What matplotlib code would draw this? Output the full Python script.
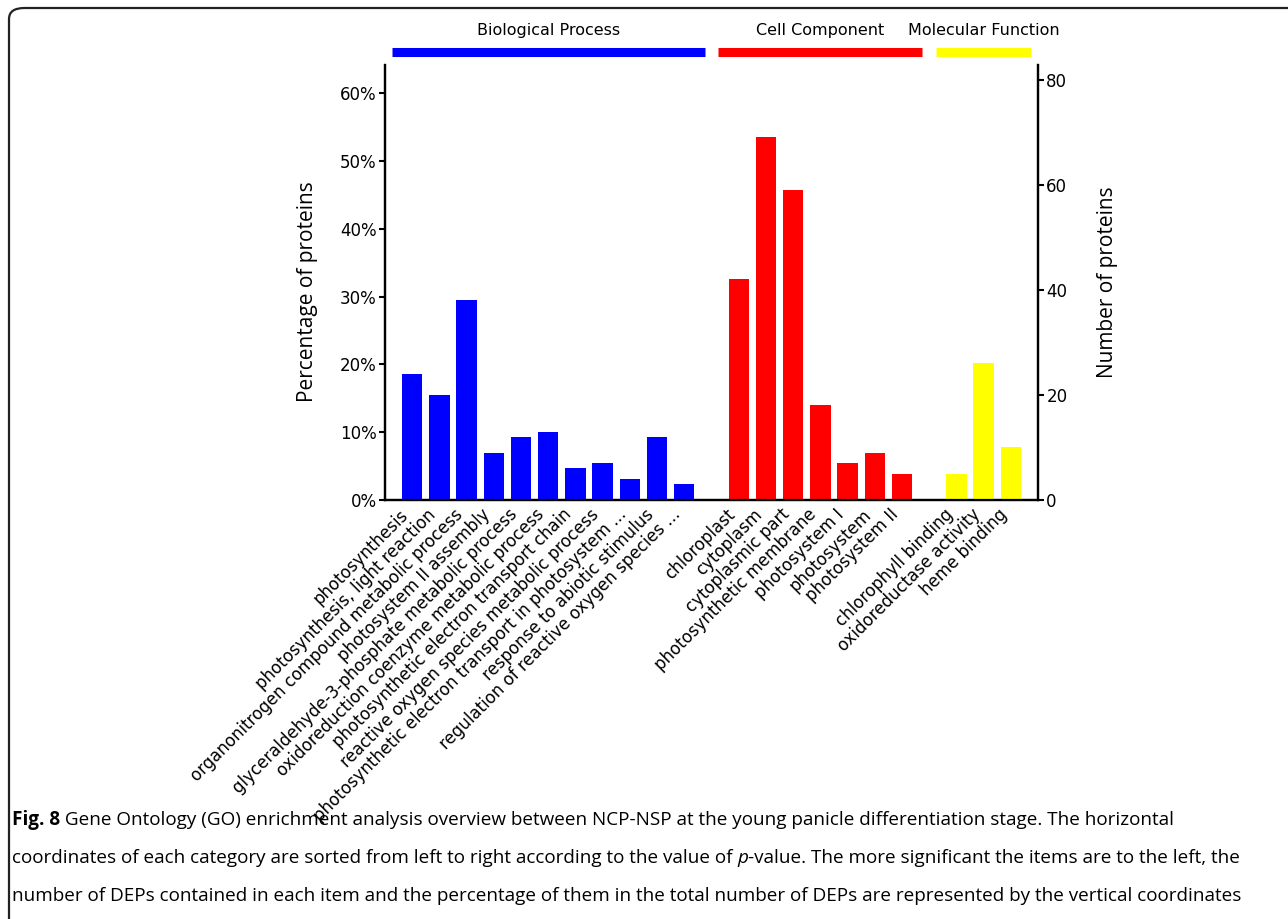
import matplotlib
matplotlib.use("Agg")
import matplotlib.pyplot as plt
import matplotlib.transforms as mtransforms
from matplotlib import font_manager
from matplotlib.patches import FancyBboxPatch
import matplotlib.ticker as ticker

# GO terms and protein counts
bpTerms=["photosynthesis","photosynthesis, light reaction",
    "organonitrogen compound metabolic process","photosystem II assembly",
    "glyceraldehyde-3-phosphate metabolic process","oxidoreduction coenzyme metabolic process",
    "photosynthetic electron transport chain","reactive oxygen species metabolic process",
    "photosynthetic electron transport in photosystem ...","response to abiotic stimulus",
    "regulation of reactive oxygen species ..."]
bpCounts=[24,20,38,9,12,13,6,7,4,12,3]
ccTerms=["chloroplast","cytoplasm","cytoplasmic part","photosynthetic membrane",
    "photosystem I","photosystem","photosystem II"]
ccCounts=[42,69,59,18,7,9,5]
mfTerms=["chlorophyll binding","oxidoreductase activity","heme binding"]
mfCounts=[5,26,10]
groupNames=["Biological Process","Cell Component","Molecular Function"]
groupColors=["blue","red","yellow"]
totalDEPs=129

captionLines=[
    [("Fig. 8","bold","normal"),(" Gene Ontology (GO) enrichment analysis overview between NCP-NSP at the young panicle differentiation stage. The horizontal","normal","normal")],
    [("coordinates of each category are sorted from left to right according to the value of ","normal","normal"),("p","normal","italic"),("-value. The more significant the items are to the left, the","normal","normal")],
    [("number of DEPs contained in each item and the percentage of them in the total number of DEPs are represented by the vertical coordinates","normal","normal")],
]

plt.rcParams["font.family"]=["DejaVu Sans"]

W,H=1288,919
fig=plt.figure(figsize=(W/100,H/100),dpi=100)
fig.patch.set_facecolor("white")

# rounded frame, cut off at the right and bottom like the journal crop
frame=FancyBboxPatch((9/W,-0.05),1.2,1-8/H+0.05,boxstyle="round,pad=0,rounding_size=0.012",
    transform=fig.transFigure,fc="none",ec="#222222",lw=1.6,clip_on=False)
fig.patches.append(frame)

ax=fig.add_axes([385/W,1-500/H,653/W,435/H])
ax2=ax.twinx()

groups=[(bpTerms,bpCounts),(ccTerms,ccCounts),(mfTerms,mfCounts)]
xPos=[]
xLabels=[]
start=0
for (terms,counts),name,col in zip(groups,groupNames,groupColors):
    pos=list(range(start,start+len(terms)))
    ax2.bar(pos,counts,width=0.75,color=col,zorder=2)
    xPos+=pos
    xLabels+=terms
    trans=mtransforms.blended_transform_factory(ax2.transData,ax2.transAxes)
    ax2.plot([pos[0]-0.75,pos[-1]+0.75],[1.03,1.03],color=col,lw=6.5,
        solid_capstyle="butt",transform=trans,clip_on=False)
    ax2.text((pos[0]+pos[-1])/2,1.08,name,transform=trans,ha="center",va="center",fontsize=11.5)
    start=pos[-1]+2

yTop=max(max(bpCounts),max(ccCounts),max(mfCounts))*1.2
ax2.set_ylim(0,yTop)
ax.set_ylim(0,yTop/totalDEPs*100)
ax.set_xlim(-1,start-1)

ax.set_xticks(xPos)
ax.set_xticklabels(xLabels,rotation=45,ha="right",fontsize=12)
ax.tick_params(axis="x",length=0,pad=4)

ax.yaxis.set_major_locator(ticker.MultipleLocator(10))
ax.yaxis.set_major_formatter(ticker.FuncFormatter(lambda v,p: "%d%%"%v))
ax2.yaxis.set_major_locator(ticker.MultipleLocator(20))
for a in (ax,ax2):
    a.tick_params(axis="y",labelsize=12,length=4,width=1.5,direction="out",pad=2)
    a.spines["top"].set_visible(False)
    for s in ("left","right","bottom"):
        a.spines[s].set_linewidth(1.6)

ax.set_ylabel("Percentage of proteins",fontsize=15,family="Open Sans",labelpad=15.5)
ax.yaxis.label.set_y(0.48)
ax2.set_ylabel("Number of proteins",fontsize=15,family="Open Sans",labelpad=21)

# caption, condensed face if one is installed
names={f.name for f in font_manager.fontManager.ttflist}
if "Liberation Sans Narrow" in names:
    capFont,capSize="Liberation Sans Narrow",15.5
else:
    capFont,capSize="Open Sans",13.6
renderer=fig.canvas.get_renderer()
for i,line in enumerate(captionLines):
    y=1-(825+38*i)/H
    xNow=12
    for txt,wt,st in line:
        t=fig.text(xNow/W,y,txt,fontsize=capSize,family=capFont,weight=wt,style=st,
            va="baseline",ha="left")
        xNow=t.get_window_extent(renderer).x1

fig.savefig("out.png",dpi=100)
